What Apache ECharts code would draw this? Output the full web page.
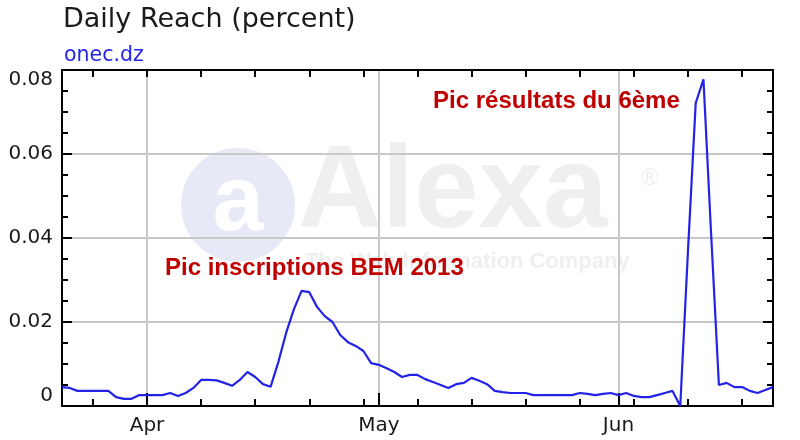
<!DOCTYPE html>
<html>
<head>
<meta charset="utf-8">
<script src="https://cdn.jsdelivr.net/npm/echarts@6/dist/echarts.min.js"></script>
<style>
html,body{margin:0;padding:0;background:#fff;}
#chart{width:800px;height:440px;}
</style>
</head>
<body>
<div id="chart"></div>
<script>
// ---- data ----
const startDate = '2013-03-21';
const dayCount = 93;
const reach = [
  0.0045, 0.0043, 0.0036, 0.0036, 0.0036, 0.0036, 0.0036, 0.0021, 0.0017, 0.0017,
  0.0026, 0.0026, 0.0026, 0.0026, 0.0031, 0.0024, 0.0031, 0.0043, 0.0062, 0.0062,
  0.0061, 0.0055, 0.0048, 0.0062, 0.0081, 0.0069, 0.0052, 0.0046, 0.0105, 0.0174,
  0.0230, 0.0274, 0.0271, 0.0236, 0.0214, 0.0200, 0.0169, 0.0152, 0.0143, 0.0131,
  0.0102, 0.0098, 0.0090, 0.0081, 0.0069, 0.0074, 0.0074, 0.0064, 0.0057, 0.0050,
  0.0043, 0.0052, 0.0055, 0.0067, 0.0060, 0.0052, 0.0036, 0.0033, 0.0031, 0.0031,
  0.0031, 0.0026, 0.0026, 0.0026, 0.0026, 0.0026, 0.0026, 0.0031, 0.0029, 0.0026,
  0.0029, 0.0031, 0.0026, 0.0031, 0.0024, 0.0021, 0.0021, 0.0026, 0.0031, 0.0036,
  0.0000, 0.0370, 0.0721, 0.0778, 0.0407, 0.0050, 0.0055, 0.0045, 0.0045, 0.0036,
  0.0031, 0.0038, 0.0045
];
const monthIdx = [11, 41, 72];
const monthNames = ['Apr', 'May', 'Jun'];
const weekIdx = [4, 11, 18, 25, 32, 39, 46, 53, 60, 67, 74, 81, 88];
const yTicks = [0, 0.02, 0.04, 0.06, 0.08];
const titleText = 'Daily Reach (percent)';
const siteText = 'onec.dz';
const note1 = 'Pic inscriptions BEM 2013';
const note2 = 'Pic résultats du 6ème';

// categories (one per day)
const categories = [];
{
  const d0 = new Date(startDate + 'T00:00:00Z');
  for (let i = 0; i < dayCount; i++) {
    const d = new Date(d0.getTime() + i * 86400000);
    categories.push(d.toISOString().slice(0, 10));
  }
}

const FONT = 'DejaVu Sans';
const chart = echarts.init(document.getElementById('chart'), null, {renderer: 'canvas'});

const baseX = {
  type: 'category',
  data: categories,
  boundaryGap: false,
  gridIndex: 0
};

const option = {
  backgroundColor: '#ffffff',
  animation: false,
  title: [
    {text: titleText, left: 58, top: 1,
     textStyle: {fontFamily: FONT, fontSize: 27, fontWeight: 'normal', color: '#1a1a1a'}},
    {text: siteText, left: 59, top: 40,
     textStyle: {fontFamily: FONT, fontSize: 20.5, fontWeight: 'normal', color: '#2424e6'}}
  ],
  grid: {left: 62, right: 27, top: 70, bottom: 34, containLabel: false},
  graphic: [
    {type: 'group', silent: true, z: -10, children: [
      {type: 'circle', shape: {cx: 238, cy: 205, r: 57}, style: {fill: '#e7e9f7'}},
      {type: 'text', x: 238, y: 205, style: {text: 'a', fill: '#ffffff', font: 'bold 92px "Liberation Sans"', align: 'center', verticalAlign: 'middle'}},
      {type: 'text', x: 298, y: 195, style: {text: 'Alexa', fill: '#efeff1', font: 'bold 116px "Liberation Sans"', verticalAlign: 'middle'}},
      {type: 'text', x: 641, y: 178, style: {text: '®', fill: '#efeff1', font: '24px "Liberation Sans"', verticalAlign: 'middle'}},
      {type: 'text', x: 305, y: 262, style: {text: 'The Web Information Company', fill: '#efefef', font: 'bold 22px "Liberation Sans"', verticalAlign: 'middle'}}
    ]},
    {type: 'text', x: 165, y: 268, z: 100, silent: true,
     style: {text: note1, fill: '#c00000', font: 'bold 24px "Liberation Sans"', verticalAlign: 'middle'}},
    {type: 'text', x: 433, y: 101, z: 100, silent: true,
     style: {text: note2, fill: '#c00000', font: 'bold 24px "Liberation Sans"', verticalAlign: 'middle'}}
  ],
  xAxis: [
    Object.assign({}, baseX, {
      position: 'bottom',
      axisLine: {show: true, onZero: false, lineStyle: {color: '#000', width: 2}},
      axisTick: {show: true, inside: true, length: 7, lineStyle: {color: '#000', width: 2},
        interval: (i) => weekIdx.includes(i)},
      axisLabel: {show: true, margin: 10, fontFamily: FONT, fontSize: 20, color: '#1a1a1a',
        interval: (i) => monthIdx.includes(i),
        formatter: (v, i) => { const k = monthIdx.indexOf(i); return k >= 0 ? monthNames[k] : ''; }},
      splitLine: {show: true, lineStyle: {color: '#c8c8c8', width: 2},
        interval: (i) => monthIdx.includes(i)}
    }),
    Object.assign({}, baseX, {
      position: 'bottom',
      axisLine: {show: false, onZero: false},
      axisTick: {show: true, inside: true, length: 13, lineStyle: {color: '#000', width: 2},
        interval: (i) => monthIdx.includes(i)},
      axisLabel: {show: false},
      splitLine: {show: false}
    }),
    Object.assign({}, baseX, {
      position: 'top',
      axisLine: {show: true, onZero: false, lineStyle: {color: '#000', width: 2}},
      axisTick: {show: true, inside: true, length: 7, lineStyle: {color: '#000', width: 2},
        interval: (i) => weekIdx.includes(i)},
      axisLabel: {show: false},
      splitLine: {show: false}
    })
  ],
  yAxis: [
    {
      type: 'value', position: 'left', min: yTicks[0], max: yTicks[yTicks.length - 1], interval: 0.02,
      axisLine: {show: true, onZero: false, lineStyle: {color: '#000', width: 2}},
      axisTick: {show: true, inside: true, length: 10, lineStyle: {color: '#000', width: 2}},
      minorTick: {show: true, splitNumber: 4, length: 6, lineStyle: {color: '#000', width: 2}},
      axisLabel: {show: true, margin: 9, fontFamily: FONT, fontSize: 20, color: '#1a1a1a',
        verticalAlignMinLabel: 'bottom', verticalAlignMaxLabel: 'top',
        formatter: (v) => (v === 0 ? '0' : String(+v.toFixed(2)))},
      splitLine: {show: true, lineStyle: {color: '#c8c8c8', width: 2}}
    },
    {
      type: 'value', position: 'right', min: yTicks[0], max: yTicks[yTicks.length - 1], interval: 0.02,
      axisLine: {show: true, onZero: false, lineStyle: {color: '#000', width: 2}},
      axisTick: {show: true, inside: true, length: 10, lineStyle: {color: '#000', width: 2}},
      minorTick: {show: true, splitNumber: 4, length: 6, lineStyle: {color: '#000', width: 2}},
      axisLabel: {show: false},
      splitLine: {show: false}
    }
  ],
  series: [{
    type: 'line',
    xAxisIndex: 0,
    yAxisIndex: 0,
    data: reach,
    showSymbol: false,
    symbol: 'none',
    smooth: false,
    clip: true,
    lineStyle: {color: '#2323e8', width: 2.2},
    z: 5
  }]
};
chart.setOption(option);
</script>
</body>
</html>
